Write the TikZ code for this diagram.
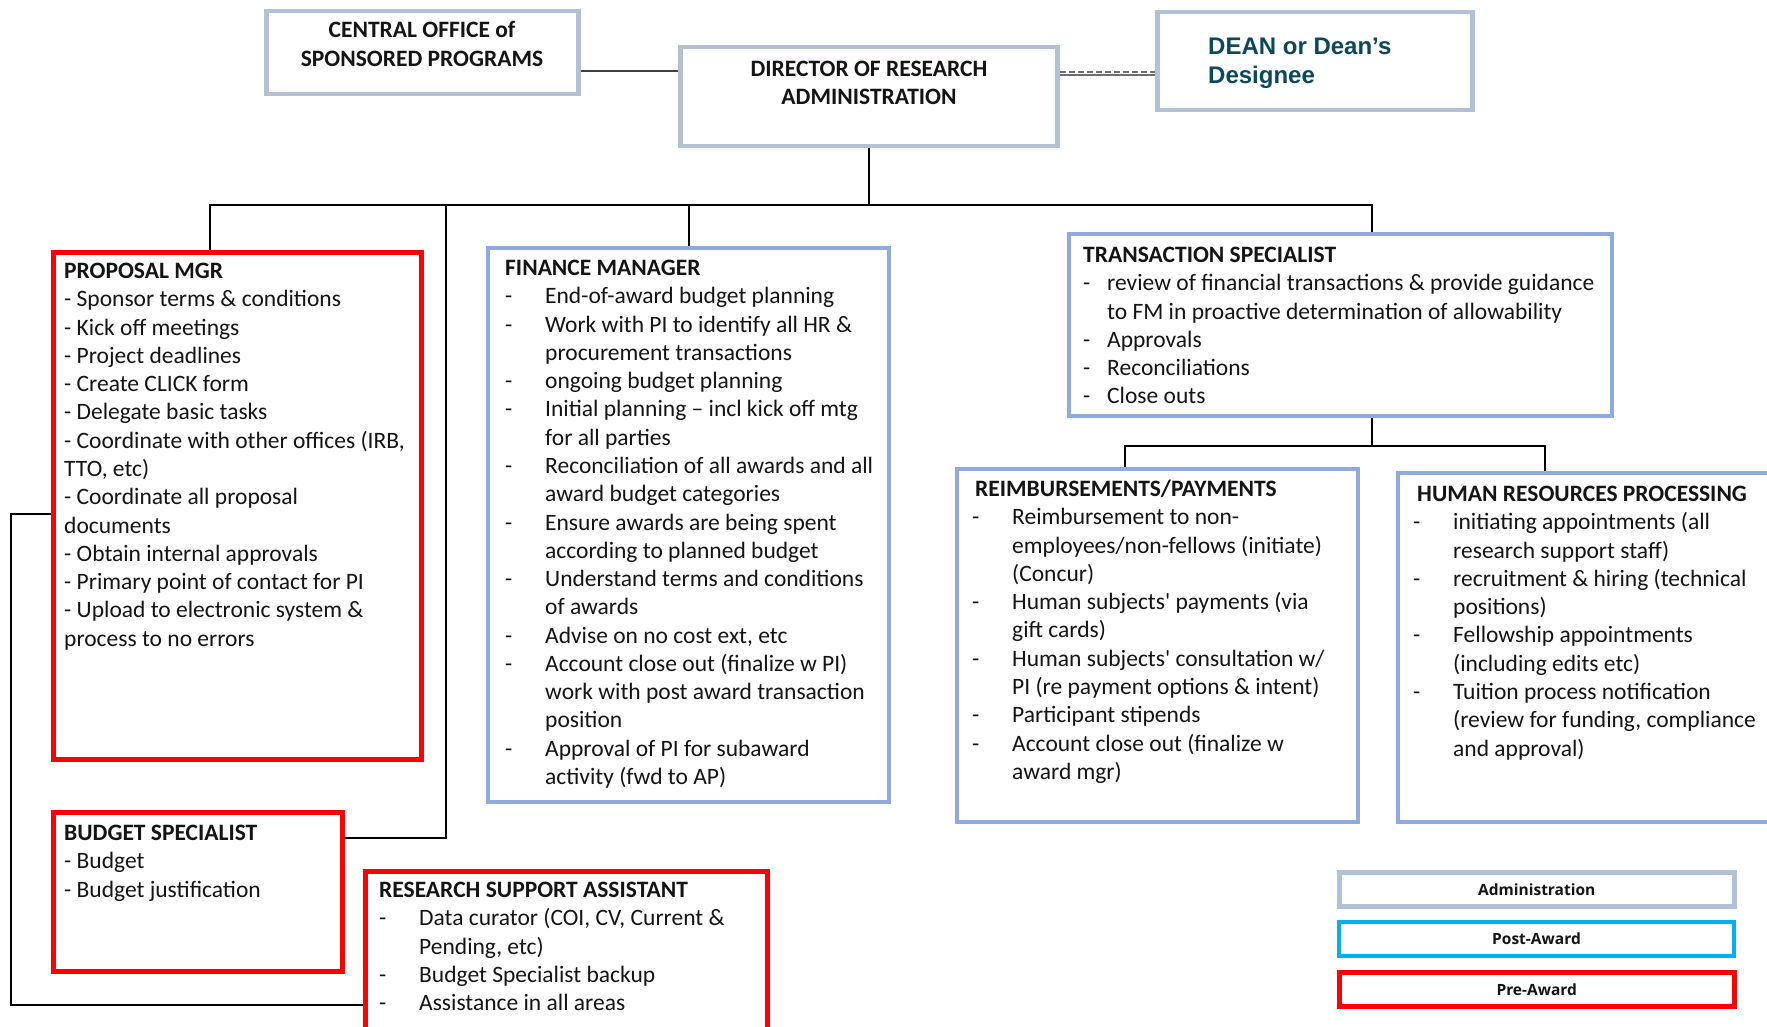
\documentclass[tikz,border=0pt]{standalone}
\usepackage{fontspec}
\setmainfont{Carlito}
\newfontfamily\deanfont{Liberation Sans}
\newfontfamily\legfont{Open Sans}
\usetikzlibrary{calc}

\definecolor{admc}{RGB}{180,192,212}
\definecolor{postc}{RGB}{143,170,220}
\definecolor{cyanc}{RGB}{0,176,240}
\definecolor{redc}{RGB}{255,0,0}
\definecolor{deanc}{RGB}{12,72,90}
\definecolor{linkc}{RGB}{64,64,64}
\definecolor{dashc}{RGB}{110,110,110}
\definecolor{txtc}{RGB}{20,20,20}

\newcommand{\md}{\makebox[40pt][l]{-}}
\newcommand{\mc}{\hspace*{40pt}}
\newcommand{\mdt}{\makebox[24pt][l]{-}}
\newcommand{\mct}{\hspace*{24pt}}

\begin{document}
\begin{tikzpicture}[x=1pt,y=-1pt,
  box/.style={draw, rectangle, inner sep=0pt, anchor=north west, fill=white},
  admbox/.style={box, draw=admc, line width=4.5pt},
  postbox/.style={box, draw=postc, line width=4pt},
  prebox/.style={box, draw=redc, line width=4.5pt},
  cyanbox/.style={box, draw=cyanc, line width=4pt},
  txt/.style={anchor=north west, inner sep=0pt, align=left, text=txtc,
    font=\fontsize{23.5}{28.26}\selectfont},
  ctxt/.style={anchor=north, inner sep=0pt, align=center, text=txtc,
    font=\fontsize{23.5}{28.26}\selectfont\bfseries},
  legtxt/.style={text=txtc, font=\legfont\bfseries\fontsize{15.5}{18}\selectfont},
  link/.style={line width=2pt, black},
]
\fill[white] (0,0) rectangle (1767,1027);
\useasboundingbox (0,0) rectangle (1767,1027);

% boxes
\node[admbox, minimum width=312pt, minimum height=83pt] (cosp) at (264,9) {};
\node[admbox, minimum width=377pt, minimum height=99pt] (dir) at (678,45) {};
\node[admbox, minimum width=315pt, minimum height=98pt] (dean) at (1155,10) {};
\node[prebox, minimum width=368pt, minimum height=507pt] (pm) at (51,250) {};
\node[postbox, minimum width=401pt, minimum height=554pt] (fm) at (486,246) {};
\node[postbox, minimum width=543pt, minimum height=182pt] (ts) at (1067,232) {};
\node[postbox, minimum width=401pt, minimum height=353pt] (rp) at (955,467) {};
\node[postbox, minimum width=420pt, minimum height=349pt] (hr) at (1396,471) {};
\node[prebox, minimum width=289pt, minimum height=159pt] (bs) at (51,810) {};
\node[prebox, minimum width=402pt, minimum height=180pt] (rsa) at (363,869) {};

% legend
\node[admbox, legtxt, minimum width=395pt, minimum height=34pt] (lga) at (1337,870) {Administration};
\node[cyanbox, legtxt, minimum width=395pt, minimum height=34pt] (lgb) at (1337,920) {Post-Award};
\node[prebox, legtxt, minimum width=395pt, minimum height=34pt] (lgc) at (1337,970) {Pre-Award};

% connectors
\coordinate (cdy) at (0,71);
\draw[line width=2.5pt, linkc] (cosp.east |- cdy) -- (dir.west |- cdy);
\coordinate (ddy) at (0,75);
\coordinate (ddt) at (0,72.5);
\draw[line width=2.5pt, dashc] (dir.east |- ddy) -- (dean.west |- ddy);
\draw[line width=2pt, dashc, dash pattern=on 6pt off 3pt] (dir.east |- ddt) -- (dean.west |- ddt);

\coordinate (busL) at (210,205);
\coordinate (busR) at (1372,205);
\coordinate (fmdrop) at (689,205);
\coordinate (bsdrop) at (446,205);
\coordinate (bsturn) at (446,838);
\draw[link] (dir.south) -- (dir.south |- busL);
\draw[link] (pm.north -| busL) -- (busL) -- (busR) -- (ts.north -| busR);
\draw[link] (fmdrop) -- (fmdrop |- fm.north);
\draw[link] (bsdrop) -- (bsturn) -- (bsturn -| bs.east);

\coordinate (tsbus) at (1372,446);
\coordinate (rpdrop) at (1125,446);
\coordinate (hrdrop) at (1545,446);
\draw[link] (ts.south -| tsbus) -- (tsbus);
\draw[link] (rpdrop |- rp.north) -- (rpdrop) -- (hrdrop) -- (hrdrop |- hr.north);

\coordinate (lt) at (11,514);
\coordinate (lb) at (11,1005);
\draw[link] (pm.west |- lt) -- (lt) -- (lb) -- (lb -| rsa.west);

% texts
\node[ctxt] (cospt) at (422,18) {\strut CENTRAL OFFICE of\\SPONSORED PROGRAMS};
\node[ctxt] (dirt) at (869,56.5) {\strut DIRECTOR OF RESEARCH\\ADMINISTRATION};
\node[anchor=north west, inner sep=0pt, align=left, text=deanc,
  font=\deanfont\bfseries\fontsize{24}{29}\selectfont] (deant) at (1208,34)
  {\strut DEAN or Dean’s\\Designee};

\node[txt] (pmt) at (64,258.7) {\strut\textbf{PROPOSAL MGR}\\
- Sponsor terms \& conditions\\
- Kick off meetings\\
- Project deadlines\\
- Create CLICK form\\
- Delegate basic tasks\\
- Coordinate with other offices (IRB,\\
TTO, etc)\\
- Coordinate all proposal\\
documents\\
- Obtain internal approvals\\
- Primary point of contact for PI\\
- Upload to electronic system \&\\
process to no errors};

\node[txt] (fmt) at (505,255.7) {\strut\textbf{FINANCE MANAGER}\\
\md End-of-award budget planning\\
\md Work with PI to identify all HR \&\\
\mc procurement transactions\\
\md ongoing budget planning\\
\md Initial planning -- incl kick off mtg\\
\mc for all parties\\
\md Reconciliation of all awards and all\\
\mc award budget categories\\
\md Ensure awards are being spent\\
\mc according to planned budget\\
\md Understand terms and conditions\\
\mc of awards\\
\md Advise on no cost ext, etc\\
\md Account close out (finalize w PI)\\
\mc work with post award transaction\\
\mc position\\
\md Approval of PI for subaward\\
\mc activity (fwd to AP)};

\node[txt] (tst) at (1083,242.7) {\strut\textbf{TRANSACTION SPECIALIST}\\
\mdt review of financial transactions \& provide guidance\\
\mct to FM in proactive determination of allowability\\
\mdt Approvals\\
\mdt Reconciliations\\
\mdt Close outs};

\node[txt] (rpt) at (972,476.7) {\strut\hspace*{3pt}\textbf{REIMBURSEMENTS/PAYMENTS}\\
\md Reimbursement to non-\\
\mc employees/non-fellows (initiate)\\
\mc (Concur)\\
\md Human subjects\textquotesingle\ payments (via\\
\mc gift cards)\\
\md Human subjects\textquotesingle\ consultation w/\\
\mc PI (re payment options \& intent)\\
\md Participant stipends\\
\md Account close out (finalize w\\
\mc award mgr)};

\node[txt] (hrt) at (1413,481.7) {\strut\hspace*{4pt}\textbf{HUMAN RESOURCES PROCESSING}\\
\md initiating appointments (all\\
\mc research support staff)\\
\md recruitment \& hiring (technical\\
\mc positions)\\
\md Fellowship appointments\\
\mc (including edits etc)\\
\md Tuition process notification\\
\mc (review for funding, compliance\\
\mc and approval)};

\node[txt] (bst) at (64,820.7) {\strut\textbf{BUDGET SPECIALIST}\\
- Budget\\
- Budget justification};

\node[txt] (rsat) at (379,877.7) {\strut\textbf{RESEARCH SUPPORT ASSISTANT}\\
\md Data curator (COI, CV, Current \&\\
\mc Pending, etc)\\
\md Budget Specialist backup\\
\md Assistance in all areas};
\end{tikzpicture}
\end{document}
